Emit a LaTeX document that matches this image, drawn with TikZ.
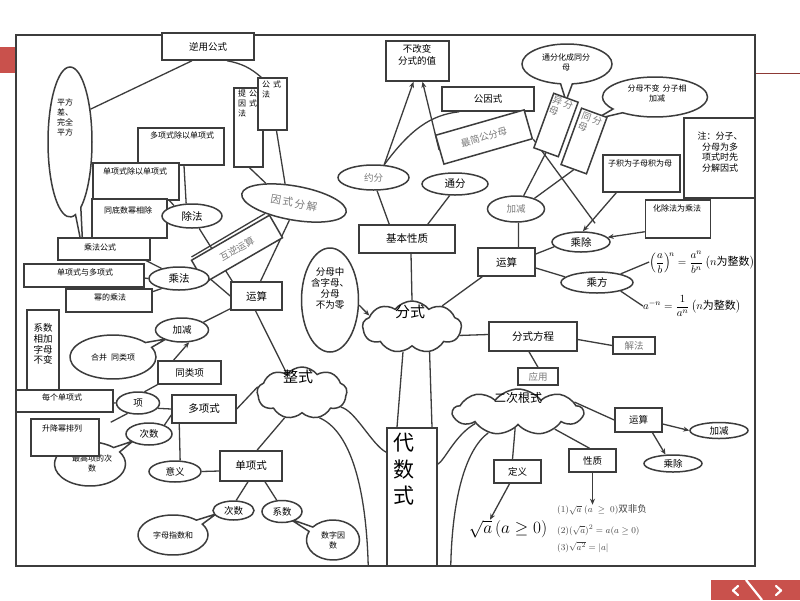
\documentclass[tikz,border=0pt]{standalone}
\usepackage{amsmath}
\usepackage{fontspec}
\setmainfont{Noto Sans CJK SC}
\usetikzlibrary{shapes.geometric,shapes.symbols,shapes.callouts,arrows.meta,calc}
\definecolor{lc}{HTML}{3C3C3C}
\definecolor{gt}{HTML}{7A7A7A}
\definecolor{rd}{HTML}{C9514C}
\pgfdeclarelayer{bg}
\pgfsetlayers{bg,main}
\tikzset{
 ln/.style={draw=lc, line width=1.3pt},
 ar/.style={draw=lc, line width=1.3pt, -{Stealth[length=6pt,width=5pt]}},
 sz/.style 2 args={minimum width=#1pt, minimum height=#2pt},
 bx/.style={rectangle, draw=lc, line width=1.5pt, fill=white, inner sep=0pt, align=center},
 el/.style={ellipse, draw=lc, line width=1.5pt, fill=white, inner sep=0pt, align=center},
 co/.style={ellipse callout, draw=lc, line width=1.5pt, fill=white, inner sep=0pt, align=center},
 cl/.style={cloud, cloud puffs=9, cloud puff arc=105, draw=lc, line width=1.5pt, fill=white, inner sep=0pt},
 tx/.style={inner sep=0pt, align=center},
 gr/.style={text=gt},
 fb/.style={font=\fontsize{8}{10}\selectfont},
 fc/.style={font=\fontsize{9.5}{11}\selectfont},
 fd/.style={font=\fontsize{10.5}{12}\selectfont},
}
\begin{document}
\begin{tikzpicture}[x=1pt,y=-1pt]
\useasboundingbox (0,0) rectangle (800,600);
\begin{pgfonlayer}{bg}
\fill[white] (0,0) rectangle (800,600);
\fill[rd] (0,47) rectangle (16,73);
\draw[rd!70!black, line width=1pt] (755,73) -- (800,73);
\draw[lc, line width=2pt] (16,35) rectangle (755,566);
\fill[rd] (711,580) rectangle (800,600);
\draw[white, line width=2.2pt] (746,580) -- (762,600);
\draw[white, line width=2.2pt, line cap=round, line join=round] (738,586) -- (733,590.5) -- (738,595);
\draw[white, line width=2.2pt, line cap=round, line join=round] (776,586) -- (781,590.5) -- (776,595);
\end{pgfonlayer}

% ---------- top left
\node[co, sz={44}{150}, callout absolute pointer={(83,252)}] (pfe) at (70,142) {};
\node[tx,fb] (pfeT) at (65,117) {平方\\差、\\完全\\平方};
\node[bx, sz={92}{27}, fc] (nyong) at (208,46.5) {逆用公式};
\node[bx, sz={29}{79}] (tgy) at (248.5,127.5) {};
\node[tx,fb,anchor=north west,align=left] (tgyT) at (238,90) {提\hspace{3pt}公\\因\hspace{3pt}式\\法};
\node[bx, sz={29}{52}] (gsf) at (272.5,104) {};
\node[tx,fb,anchor=north west,align=left] (gsfT) at (262,81) {公\hspace{3pt}式\\法};
\node[el, sz={106}{34}, rotate=-10, gr, fd] (ysfj) at (294,203) {因\,式\,分\,解};
\node[bx, sz={86}{37}] (dxcd) at (181,146.5) {};
\node[tx,fb] (dxcdT) at (182,135) {多项式除以单项式};
\node[bx, sz={86}{37}] (dxcd2) at (136,181.5) {};
\node[tx,fb] (dxcd2T) at (135,171) {单项式除以单项式};
\node[bx, sz={75}{39}] (tdsm) at (129.5,218.5) {};
\node[tx,fb] (tdsmT) at (128,210) {同底数幂相除};
\node[el, sz={60}{24}, fd] (chufa) at (192,216) {除法};
\node[bx, sz={92}{22}] (cfgs) at (104,249) {};
\node[tx,fb] (cfgsT) at (100,247) {乘法公式};
\node[bx, sz={120}{23}] (dyd) at (84,275.5) {};
\node[tx,fb] (dydT) at (85,272) {单项式与多项式};
\node[bx, sz={86}{23}] (mdcf) at (109,300.5) {};
\node[tx,fb] (mdcfT) at (110,297) {幂的乘法};
\node[bx, sz={90}{26}, rotate=30, gr, fc] (hnys) at (237,249) {互逆运算};
\node[el, sz={60}{23}, fd] (chengfa) at (179,278.5) {乘法};
\node[bx, sz={51}{28}, fd] (ys1) at (256.5,296) {运算};

% ---------- middle left
\node[co, sz={86}{44}, callout absolute pointer={(166,339)}, fb] (hbtl) at (113,357) {合并\hspace{4pt}同类项};
\node[el, sz={53}{24}, fc] (jj1) at (182,330) {加减};
\node[bx, sz={63}{23}, fc] (tlx) at (189.5,372.5) {同类项};
\node[bx, sz={32}{80}] (xsxj) at (43,350) {};
\node[tx, font=\fontsize{9.5}{10.8}\selectfont] (xsxjT) at (43,344) {系数\\相加\\字母\\不变};
\node[bx, sz={97}{22}] (mgdx) at (64.5,401) {};
\node[tx,fb] (mgdxT) at (62,397) {每个单项式};
\node[el, sz={43}{22}, fc] (xiang) at (138,403) {项};
\node[bx, sz={64}{28}, fd] (dxs) at (204,409) {多项式};
\node[co, sz={71}{44}, callout absolute pointer={(133,441)}] (zgx) at (90,464) {};
\node[tx,fb] (zgxT) at (92,463) {最高项的次\\数};
\node[bx, sz={68}{37}] (sjmp) at (65,437.5) {};
\node[tx,fb] (sjmpT) at (62,428) {升降幂排列};
\node[el, sz={46}{22}, fc] (cs1) at (149,434) {次数};
\node[el, sz={52}{21}, fc] (yy) at (175,471.5) {意义};
\node[bx, sz={62}{30}, fd] (dxs2) at (251,466) {单项式};
\node[co, sz={70}{40}, callout absolute pointer={(216,514)}, fb] (zmzs) at (173,535) {字母指数和};
\node[co, sz={53}{40}, callout absolute pointer={(290,519)}, fb] (szys) at (333,540) {数字因\\数};
\node[el, sz={41}{19}, fc] (cs2) at (233.5,510.5) {次数};
\node[el, sz={40}{22}, fc] (xs2) at (282,511.5) {系数};

% ---------- clouds and centre
\node[cl, sz={90}{52}] (zs) at (302,393) {};
\node[tx, font=\fontsize{15}{17}\selectfont] (zsT) at (298,377) {整式};
\node[cl, sz={99}{52}] (fs) at (412,327) {};
\node[tx, font=\fontsize{15}{17}\selectfont] (fsT) at (410,312) {分式};
\node[cl, sz={130}{46}] (ecgs) at (518,412) {};
\node[tx, font=\fontsize{12}{14}\selectfont] (ecgsT) at (518,398) {二次根式};
\node[bx, sz={50}{138}] (dss) at (412,497) {};
\node[tx, font=\fontsize{21}{26.5}\selectfont, anchor=north] (dssT) at (404,433) {代\\数\\式};

% ---------- fraction part
\node[el, sz={57}{104}] (fmzh) at (330,300) {};
\node[tx,fc] (fmzhT) at (330,288) {分母中\\含字母、\\分母\\不为零};
\node[bx, sz={96}{28}, fd] (jbxz) at (407,239) {基本性质};
\node[el, sz={71}{25}, gr, fc] (yf) at (373.5,177.5) {约分};
\node[el, sz={66}{22}, fd] (tf) at (455,184) {通分};
\node[bx, sz={63}{40}] (bgb) at (417.5,61) {};
\node[tx, font=\fontsize{9.5}{12.5}\selectfont] (bgbT) at (417,55) {不改变\\分式的值};
\node[bx, sz={92}{24}, fc] (ggs) at (488,99) {公因式};
\node[bx, sz={92}{30}, rotate=16, gr, fc] (zjgfm) at (484,137) {最简公分母};
\node[co, sz={90}{40}, callout absolute pointer={(566,101)}] (tfhc) at (567,64) {};
\node[tx,fb] (tfhcT) at (566,62) {通分化成同分\\母};
\node[co, sz={105}{40}, callout absolute pointer={(596,119)}] (fmbb) at (655,97) {};
\node[tx,fb] (fmbbT) at (657,93) {分母不变\hspace{3pt}分子相\\加减};
\node[bx, sz={26}{58}, rotate=-20] (yfm) at (556,125) {};
\node[tx,fc,gr,rotate=-20,align=left] (yfmT) at (561,108) {异\hspace{2pt}分\\母};
\node[bx, sz={27}{60}, rotate=-20] (tfm) at (584,141) {};
\node[tx,fc,gr,rotate=-20,align=left] (tfmT) at (590,124) {同\hspace{2pt}分\\母};
\node[el, sz={57}{26}, gr, fc] (jj2) at (516,209) {加减};
\node[bx, sz={77}{37}] (zjwz) at (641.5,173.5) {};
\node[tx,fb] (zjwzT) at (640,163) {子积为子母积为母};
\node[bx, sz={65}{38}] (hcf) at (678,219) {};
\node[tx,fb] (hcfT) at (677,208) {化除法为乘法};
\node[bx, sz={71}{80}] (note) at (719.5,158) {};
\node[tx, font=\fontsize{9}{10.5}\selectfont] (noteT) at (720,152) {注：分子、\\分母为多\\项式时先\\分解因式};
\node[el, sz={58}{20}, fd] (chc) at (581,242) {乘除};
\node[bx, sz={57}{28}, fd] (ys2) at (506.5,262) {运算};
\node[el, sz={72}{21}, fd] (cf) at (597,282.5) {乘方};
\node[tx, font=\fontsize{11}{13}\selectfont] (frm1) at (702,262) {$\left(\dfrac{a}{b}\right)^{\!n}=\dfrac{a^{n}}{b^{n}}\left(n\mbox{为整数}\right)$};
\node[tx, font=\fontsize{11}{13}\selectfont] (frm2) at (692,306) {$a^{-n}=\dfrac{1}{a^{n}}\left(n\mbox{为整数}\right)$};
\node[bx, sz={88}{29}, fd] (fsfc) at (533,336.5) {分式方程};
\node[bx, sz={42}{17}, gr, fc] (jf) at (634,345.5) {解法};
\node[bx, sz={40}{17}, gr, fc] (yy2) at (538,376.5) {应用};

% ---------- radical part
\node[bx, sz={47}{24}, fc] (ys3) at (638.5,420) {运算};
\node[el, sz={58}{16}, fc] (jj3) at (719,430.5) {加减};
\node[el, sz={58}{17}, fc] (chc3) at (673,463.5) {乘除};
\node[bx, sz={47}{23}, fc] (xz) at (592.5,460.5) {性质};
\node[bx, sz={47}{23}, fc] (dy) at (517.5,471.5) {定义};
\node[tx, font=\fontsize{16}{18}\selectfont] (sqf) at (508,529) {$\sqrt{a}\left(a\geq 0\right)$};
\node[tx, anchor=west, font=\fontsize{9.5}{11}\selectfont, text=black!75] (p1) at (557,510) {$(1)\sqrt{a}\;(a\;\geq\;0)$双非负};
\node[tx, anchor=west, font=\fontsize{9.5}{11}\selectfont, text=black!75] (p2) at (557,530) {$(2)(\sqrt{a})^{2}=a(a\geq 0)$};
\node[tx, anchor=west, font=\fontsize{9.5}{11}\selectfont, text=black!75] (p3) at (557,547) {$(3)\sqrt{a^{2}}=|a|$};

% ---------- connectors
\begin{pgfonlayer}{bg}
\draw[ln] ($(nyong.south)+(-16,0)$) -- (pfe.58);
\draw[ln] ($(nyong.south)+(19,0)$) to[bend left=15] ($(gsf.north west)+(4,0)$);
\draw[ln] ($(tgy.south)+(1,0)$) -- (ysfj.155);
\draw[ln] ($(gsf.south)+(4,0)$) -- (ysfj.125);
\draw[ln] ($(dxcd.south)+(3,0)$) -- (chufa.115);
\draw[ln] ($(dxcd2.center)+(20,4)$) -- (chufa.150);
\draw[ln] ($(tdsm.center)+(21,7)$) -- (chufa.195);
\draw[ln] ($(cfgs.center)+(29,5)$) -- (chengfa.150);
\draw[ln] ($(dyd.center)+(43,0.5)$) -- (chengfa.west);
\draw[ln] ($(mdcf.center)+(24,-2)$) -- (chengfa.210);
\draw[ln] (chufa.-60) -- ($(ys1.north west)+(2,0)$);
\draw[ln] (chengfa.east) -- (ys1.west);
\draw[ln] (ysfj.-95) -- ($(ys1.north)+(4,0)$);
\draw[ln] ($(hnys.north west)+(1,-3)$) -- (ysfj.-150);
\draw[ln] ($(ys1.south west)+(0,-2)$) -- (jj1.20);
\draw[ln] ($(ys1.south)+(-1,0)$) -- (zs.128);
\draw[ar] ($(tlx.north)+(-16,0)$) -- (jj1.-60);
\draw[ln] (xiang.60) -- (tlx.south west);
\draw[ln] ($(mgdx.center)+(36,1)$) -- (xiang.west);
\draw[ln] (xiang.-15) -- (dxs.west);
\draw[ln] (xiang.-135) -- ($(sjmp.north east)+(11,4)$);
\draw[ln] (cs1.30) -- ($(dxs.west)+(0,6)$);
\draw[ln] ($(dxs.south west)+(8,0)$) -- (yy.65);
\draw[ln] (yy.east) -- ($(dxs2.west)+(0,5)$);
\draw[ln] ($(dxs2.north)+(6,0)$) -- (zs.-125);
\draw[ln] (dxs.east) -- (zs.172);
\draw[ln] ($(dxs2.south)+(-3,0)$) -- (cs2.75);
\draw[ln] ($(dxs2.south)+(14,0)$) -- (xs2.115);
\draw[ln] (zs.-20) .. controls (355,410) and (372,445) .. ($(dss.north west)+(0,25)$);
\draw[ln] (zs.-55) .. controls (348,430) and (366,480) .. ($(dss.south west)+(-18,0)$);
\draw[ln] (fs.-110) -- ($(dss.north)+(-15,0)$);
\draw[ln] (fs.-55) -- ($(dss.north)+(20,0)$);
\draw[ln] (ecgs.-165) .. controls (455,435) and (445,460) .. ($(dss.north east)+(0,37)$);
\draw[ln] (ecgs.-145) .. controls (465,450) and (452,500) .. ($(dss.south east)+(13,0)$);
\draw[ln] (ecgs.10) -- (ys3.west);
\draw[ln] (ecgs.-25) -- ($(xz.north)+(-3,0)$);
\draw[ln] (ecgs.-100) -- ($(dy.north)+(-5,0)$);
\draw[ar] ($(ys3.east)+(0,4)$) -- (jj3.west);
\draw[ar] ($(ys3.south)+(14,0)$) -- (chc3.130);
\draw[ar] (xz.south) -- (xz.south |- p1.north);
\draw[ar] ($(dy.south)+(-8,0)$) -- ($(sqf.north)+(-18,0)$);
\draw[ln] (fs.35) -- ($(ys2.south west)+(5,0)$);
\draw[ln] (fs.-10) -- ($(fsfc.west)+(0,-2)$);
\draw[ln] ($(ys2.east)+(0,-8)$) -- (chc.190);
\draw[ln] ($(ys2.east)+(0,6)$) -- (cf.170);
\draw[ln] (cf.20) -- (frm1.west);
\draw[ln] (cf.-20) -- (frm2.west);
\draw[ln] (jj2.-80) -- ($(ys2.north)+(12,0)$);
\draw[ln] (yfm.south) -- (jj2.60);
\draw[ln] (tfm.south) -- (jj2.30);
\draw[ln] (zjgfm.south east) -- ($(chc.north)+(14,-8)$);
\draw[ar] ($(zjwz.south west)+(14,0)$) -- (chc.80);
\draw[ar] ($(hcf.south west)+(0,-7)$) -- (chc.10);
\draw[ar] (yf.50) -- ($(bgb.south)+(-4,0)$);
\draw[ar] (zjgfm.west) -- ($(bgb.south)+(5,0)$);
\draw[ln] (yf.50) .. controls (410,130) and (430,115) .. ($(ggs.south west)+(18,0)$);
\draw[ln] (yf.-75) -- ($(jbxz.north west)+(31,0)$);
\draw[ln] (tf.-115) -- ($(jbxz.north east)+(-28,0)$);
\draw[ln] ($(jbxz.south)+(4,0)$) -- (fs.north);
\draw[ar] (fmzh.-10) -- (fs.165);
\draw[ln] ($(fsfc.east)+(0,3)$) -- (jf.west);
\draw[ln] ($(fsfc.south)+(-4,0)$) -- (yy2.north);
\end{pgfonlayer}
\end{tikzpicture}
\end{document}
